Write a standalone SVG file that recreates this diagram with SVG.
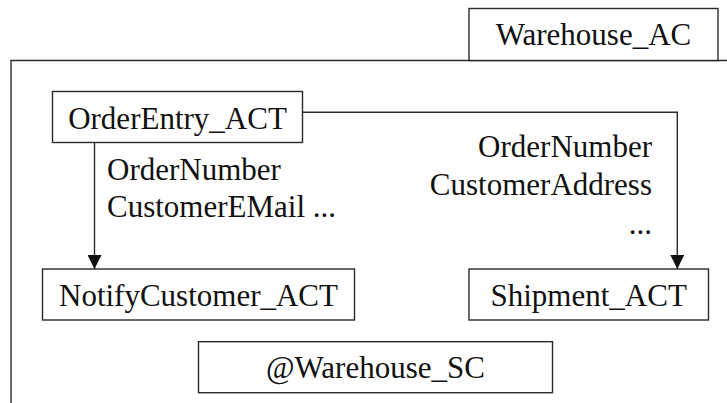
<svg xmlns="http://www.w3.org/2000/svg" width="727" height="403" viewBox="0 0 727 403">
  <defs>
    <style>
      .box { fill: #ffffff; stroke: #2a2a2a; stroke-width: 1.4; }
      .frame { fill: none; stroke: #2a2a2a; stroke-width: 1.4; }
      .wire { fill: none; stroke: #2a2a2a; stroke-width: 1.4; }
      .lbl { font-family: "Liberation Serif", "Times New Roman", serif; font-size: 31px; fill: #111111; }
      .mid { text-anchor: middle; }
      .end { text-anchor: end; }
    </style>
    <marker id="arrow" viewBox="0 0 14 14" refX="14" refY="7" markerWidth="14" markerHeight="14" markerUnits="userSpaceOnUse" orient="auto">
      <path d="M0,0 L14,7 L0,14 Z" fill="#111111"/>
    </marker>
  </defs>

  <!-- component boundary -->
  <g id="Warehouse_AC">
    <path class="frame" d="M727,60.5 H11 V403"/>
    <rect class="box" x="469" y="8.5" width="249" height="52"/>
    <text class="lbl mid" x="593.5" y="45">Warehouse_AC</text>
  </g>

  <g id="OrderEntry_ACT">
    <rect class="box" x="52.5" y="91.5" width="250" height="51"/>
    <text class="lbl mid" x="177.5" y="128.5">OrderEntry_ACT</text>
  </g>

  <g id="NotifyCustomer_ACT">
    <rect class="box" x="42.5" y="269" width="312" height="51"/>
    <text class="lbl mid" x="198.5" y="305.5">NotifyCustomer_ACT</text>
  </g>

  <g id="Shipment_ACT">
    <rect class="box" x="469" y="269" width="239.5" height="51"/>
    <text class="lbl mid" x="588.7" y="305.5">Shipment_ACT</text>
  </g>

  <g id="Warehouse_SC">
    <rect class="box" x="198.5" y="341.7" width="354" height="51"/>
    <text class="lbl mid" x="375.5" y="378">@Warehouse_SC</text>
  </g>

  <!-- data flows -->
  <g id="connectors">
    <path class="wire" d="M94.5,142.5 V269" marker-end="url(#arrow)"/>
    <path class="wire" d="M302.5,112.3 H677.3 V269" marker-end="url(#arrow)"/>
    <text class="lbl" x="107" y="180">OrderNumber</text>
    <text class="lbl" x="107" y="217">CustomerEMail ...</text>
    <text class="lbl end" x="652" y="157">OrderNumber</text>
    <text class="lbl end" x="652" y="195">CustomerAddress</text>
    <text class="lbl end" x="652" y="234">...</text>
  </g>
</svg>
